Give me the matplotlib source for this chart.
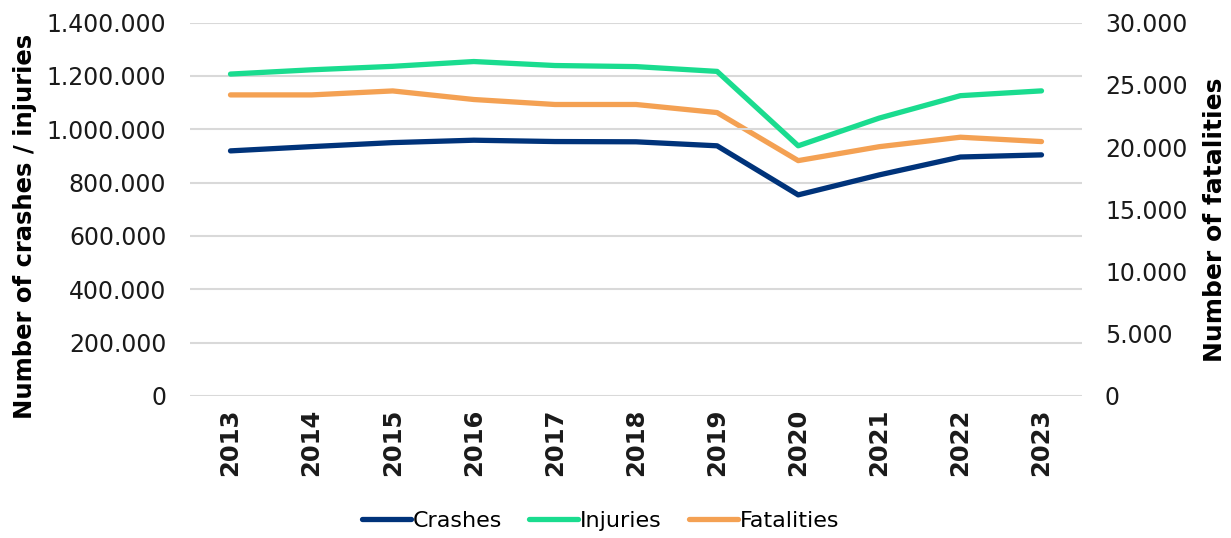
import matplotlib.pyplot as plt
from matplotlib.ticker import FuncFormatter, MultipleLocator

years = ["2013", "2014", "2015", "2016", "2017", "2018", "2019", "2020", "2021", "2022", "2023"]
crashes = [919000, 935000, 950000, 959000, 954000, 953000, 938000, 754000, 829000, 896000, 904000]
injuries = [1207000, 1223000, 1236000, 1254000, 1239000, 1235000, 1217000, 938000, 1042000, 1126000, 1144000]
fatalities = [24190, 24190, 24510, 23820, 23420, 23420, 22770, 18910, 20030, 20790, 20440]

NAVY = "#00337a"
GREEN = "#1adc8f"
ORANGE = "#f4a153"


def dotted(x, pos):
    return f"{x:,.0f}".replace(",", ".")


plt.rcParams["font.family"] = "DejaVu Sans"

fig = plt.figure(figsize=(12.31, 5.38), dpi=100)
ax = fig.add_axes([0.1543, 0.264, 0.7247, 0.694])
ax2 = ax.twinx()

x = range(len(years))
l1, = ax.plot(x, crashes, color=NAVY, lw=3.8, solid_capstyle="round", label="Crashes", zorder=3)
l2, = ax.plot(x, injuries, color=GREEN, lw=3.8, solid_capstyle="round", label="Injuries", zorder=3)
l3, = ax2.plot(x, fatalities, color=ORANGE, lw=3.8, solid_capstyle="round", label="Fatalities")

ax.set_zorder(ax2.get_zorder() + 1)
ax.patch.set_visible(False)

ax.set_xlim(-0.5, len(years) - 0.5)
ax.set_ylim(0, 1400000)
ax2.set_ylim(0, 30000)
ax.yaxis.set_major_locator(MultipleLocator(200000))
ax2.yaxis.set_major_locator(MultipleLocator(5000))
ax.yaxis.set_major_formatter(FuncFormatter(dotted))
ax2.yaxis.set_major_formatter(FuncFormatter(dotted))

ax.set_xticks(list(x))
ax.set_xticklabels(years, rotation=90, fontweight="bold", fontsize=17.5)
ax.grid(axis="y", color="#d9d9d9", lw=1.5)
ax.set_axisbelow(True)

for a in (ax, ax2):
    for s in a.spines.values():
        s.set_visible(False)
    a.tick_params(length=0, labelsize=17, colors="#1a1a1a")
ax.tick_params(axis="x", labelsize=17.5)
ax.tick_params(axis="y", pad=17)
ax2.tick_params(axis="y", pad=16.5)
ax.tick_params(axis="x", pad=9)

ax.set_ylabel("Number of crashes / injuries", fontsize=17.5, fontweight="bold")
ax2.set_ylabel("Number of fatalities", fontsize=18, fontweight="bold", rotation=90)
ax.yaxis.set_label_coords(-0.172, 0.455)
ax2.yaxis.set_label_coords(1.136, 0.471)

fig.legend(handles=[l1, l2, l3], loc="center", bbox_to_anchor=(0.488, 0.032), ncol=3,
           frameon=False, fontsize=16, handlelength=2.2, handletextpad=0.1,
           columnspacing=1.2)

fig.savefig("out.png", dpi=100)
